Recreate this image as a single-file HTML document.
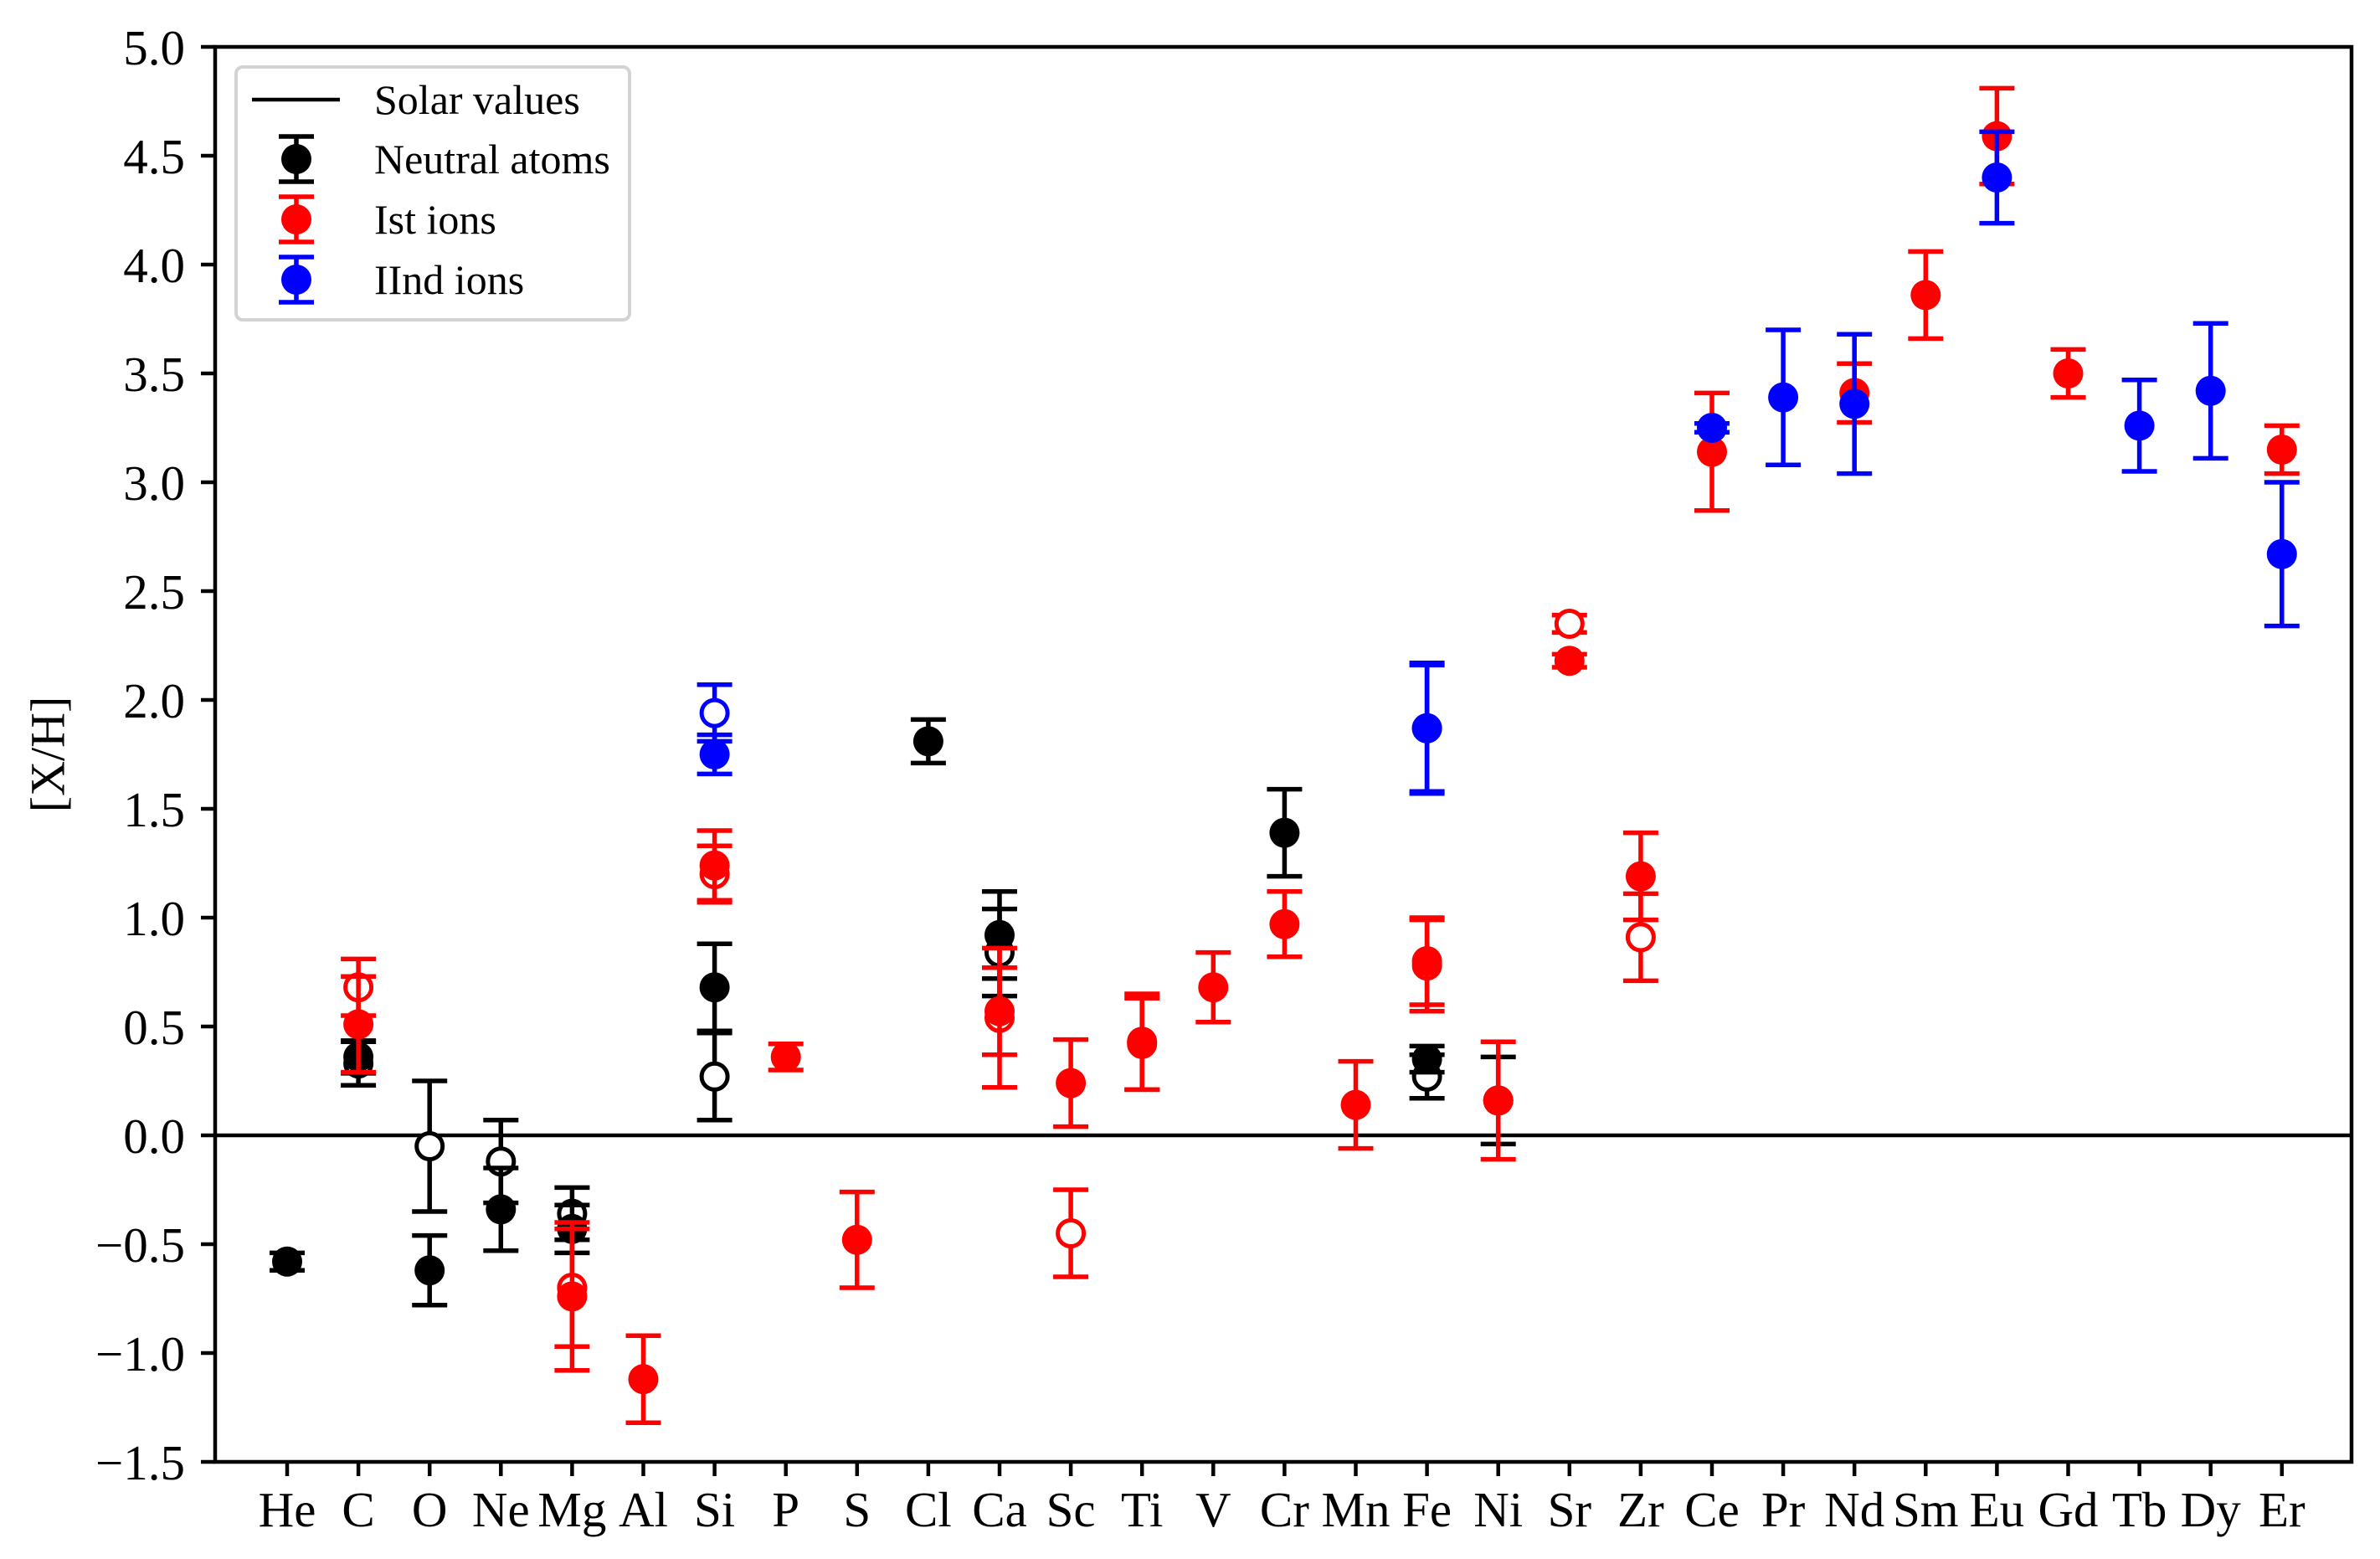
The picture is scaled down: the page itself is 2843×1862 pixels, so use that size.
<!DOCTYPE html>
<html><head><meta charset="utf-8"><style>
html,body{margin:0;padding:0;background:#fff}
svg{display:block}
text{font-family:"Liberation Serif","Times New Roman",serif;fill:#000}
</style></head><body>
<svg id="chart" width="2843" height="1862" viewBox="0 0 2843 1862" xmlns="http://www.w3.org/2000/svg">
<rect x="0" y="0" width="2843" height="1862" fill="#fff"/>
<g id="plot"></g>
<g id="axes"></g>
<text x="63" y="901" font-size="58" text-anchor="middle" dominant-baseline="middle" transform="rotate(-90 63 901)">[X/H]</text>
<g>
<rect x="282" y="80" width="470" height="302" rx="8" fill="#fff" stroke="#d3d3d3" stroke-width="4"/>
<line x1="301" y1="119" x2="406" y2="119" stroke="#000" stroke-width="4.5"/>
<text x="447" y="136" font-size="50">Solar values</text>
<g stroke="#000" stroke-width="5.5"><line x1="354" y1="163" x2="354" y2="217"/><line x1="333" y1="163" x2="375" y2="163"/><line x1="333" y1="217" x2="375" y2="217"/><circle cx="354" cy="190" r="18" fill="#000" stroke="none"/></g>
<text x="447" y="207" font-size="50">Neutral atoms</text>
<g stroke="#f00" stroke-width="5.5"><line x1="354" y1="235" x2="354" y2="289"/><line x1="333" y1="235" x2="375" y2="235"/><line x1="333" y1="289" x2="375" y2="289"/><circle cx="354" cy="262" r="18" fill="#f00" stroke="none"/></g>
<text x="447" y="279" font-size="50">Ist ions</text>
<g stroke="#00f" stroke-width="5.5"><line x1="354" y1="307" x2="354" y2="361"/><line x1="333" y1="307" x2="375" y2="307"/><line x1="333" y1="361" x2="375" y2="361"/><circle cx="354" cy="334" r="18" fill="#00f" stroke="none"/></g>
<text x="447" y="351" font-size="50">IInd ions</text>
</g>
</svg>
<script>
const elements = ["He","C","O","Ne","Mg","Al","Si","P","S","Cl","Ca","Sc","Ti","V","Cr","Mn","Fe","Ni","Sr","Zr","Ce","Pr","Nd","Sm","Eu","Gd","Tb","Dy","Er"];
const yTicks = [5.0,4.5,4.0,3.5,3.0,2.5,2.0,1.5,1.0,0.5,0.0,-0.5,-1.0,-1.5];

const neutralFilledEl = ["He","C","O","Ne","Mg","Si","Cl","Ca","Cr","Fe","Ni"];
const neutralFilledVal = [-0.58,0.36,-0.62,-0.34,-0.43,0.68,1.81,0.92,1.39,0.35,0.16];
const neutralFilledErr = [0.04,0.075,0.16,0.19,0.11,0.2,0.1,0.2,0.2,0.06,0.2];

const neutralOpenEl = ["C","O","Ne","Mg","Si","Ca","Fe"];
const neutralOpenVal = [0.33,-0.05,-0.12,-0.36,0.27,0.84,0.27];
const neutralOpenErr = [0.1,0.3,0.19,0.12,0.2,0.2,0.1];

const istFilledEl = ["C","Mg","Al","Si","P","S","Ca","Sc","Ti","V","Cr","Mn","Fe","Ni","Sr","Zr","Ce","Nd","Sm","Eu","Gd","Er"];
const istFilledVal = [0.51,-0.74,-1.12,1.24,0.36,-0.48,0.57,0.24,0.43,0.68,0.97,0.14,0.80,0.16,2.18,1.19,3.14,3.41,3.86,4.59,3.50,3.15];
const istFilledErr = [0.22,0.34,0.2,0.16,0.06,0.22,0.2,0.2,0.22,0.16,0.15,0.2,0.2,0.27,0.03,0.2,0.27,0.135,0.2,0.22,0.11,0.11];

const istOpenEl = ["C","Mg","Si","Ca","Sc","Ti","Fe","Sr","Zr"];
const istOpenVal = [0.68,-0.70,1.20,0.54,-0.45,0.42,0.78,2.35,0.91];
const istOpenErr = [0.13,0.27,0.13,0.32,0.2,0.21,0.21,0.04,0.2];

const iindFilledEl = ["Si","Fe","Ce","Pr","Nd","Eu","Tb","Dy","Er"];
const iindFilledVal = [1.75,1.87,3.25,3.39,3.36,4.40,3.26,3.42,2.67];
const iindFilledErr = [0.09,0.29,0.02,0.31,0.32,0.21,0.21,0.31,0.33];

const iindOpenEl = ["Si","Fe"];
const iindOpenVal = [1.94,1.87];
const iindOpenErr = [0.13,0.30];

const X0 = 257, X1 = 2809, Y0 = 56, Y1 = 1746;
function xPos(name){ return 343 + elements.indexOf(name) * 85.1; }
function yPos(v){ return Y0 + (5 - v) * 260; }

const NS = "http://www.w3.org/2000/svg";
const plot = document.getElementById('plot');
const axes = document.getElementById('axes');
function mk(tag, attrs, parent){
  const e = document.createElementNS(NS, tag);
  for (const k in attrs) e.setAttribute(k, attrs[k]);
  parent.appendChild(e);
  return e;
}

// solar zero line
const zl = mk('line', {x1:X0, x2:X1, y1:yPos(0), y2:yPos(0), stroke:'#000', 'stroke-width':4.5}, plot);



function drawSeries(els, vals, errs, color, filled, sname){
  for (let i = 0; i < els.length; i++){
    const g = mk('g', {}, plot);
    
    
    const cx = xPos(els[i]), cy = yPos(vals[i]);
    const yt = yPos(vals[i] + errs[i]), yb = yPos(vals[i] - errs[i]);
    mk('line', {x1:cx, x2:cx, y1:yt, y2:yb, stroke:color, 'stroke-width':5.5}, g);
    mk('line', {x1:cx-21, x2:cx+21, y1:yt, y2:yt, stroke:color, 'stroke-width':5.5}, g);
    mk('line', {x1:cx-21, x2:cx+21, y1:yb, y2:yb, stroke:color, 'stroke-width':5.5}, g);
    if (filled) mk('circle', {cx:cx, cy:cy, r:18, fill:color}, g);
    else mk('circle', {cx:cx, cy:cy, r:15.5, fill:'#fff', stroke:color, 'stroke-width':5}, g);
  }
}
drawSeries(neutralOpenEl, neutralOpenVal, neutralOpenErr, '#000', false, 'neutral-open');
drawSeries(neutralFilledEl, neutralFilledVal, neutralFilledErr, '#000', true, 'neutral');
drawSeries(istOpenEl, istOpenVal, istOpenErr, '#f00', false, 'ist-open');
drawSeries(istFilledEl, istFilledVal, istFilledErr, '#f00', true, 'ist');
drawSeries(iindOpenEl, iindOpenVal, iindOpenErr, '#00f', false, 'iind-open');
drawSeries(iindFilledEl, iindFilledVal, iindFilledErr, '#00f', true, 'iind');

// axes frame
const fr = mk('rect', {x:X0, y:Y0, width:X1-X0, height:Y1-Y0, fill:'none', stroke:'#000', 'stroke-width':4.5}, axes);



for (const t of yTicks){
  const y = yPos(t);
  const tk = mk('line', {x1:X0-17, x2:X0, y1:y, y2:y, stroke:'#000', 'stroke-width':4.5}, axes);
  
  
  const lb = mk('text', {x:221, y:y+21, 'font-size':59, 'text-anchor':'end'}, axes);
  lb.textContent = (t < 0 ? '\u2212' : '') + Math.abs(t).toFixed(1);
  
  
}
for (const el of elements){
  const x = xPos(el);
  const tk = mk('line', {x1:x, x2:x, y1:Y1, y2:Y1+17, stroke:'#000', 'stroke-width':4.5}, axes);
  
  
  const lb = mk('text', {x:x, y:1823, 'font-size':59, 'text-anchor':'middle'}, axes);
  lb.textContent = el;
  
  
}
</script>
</body></html>
